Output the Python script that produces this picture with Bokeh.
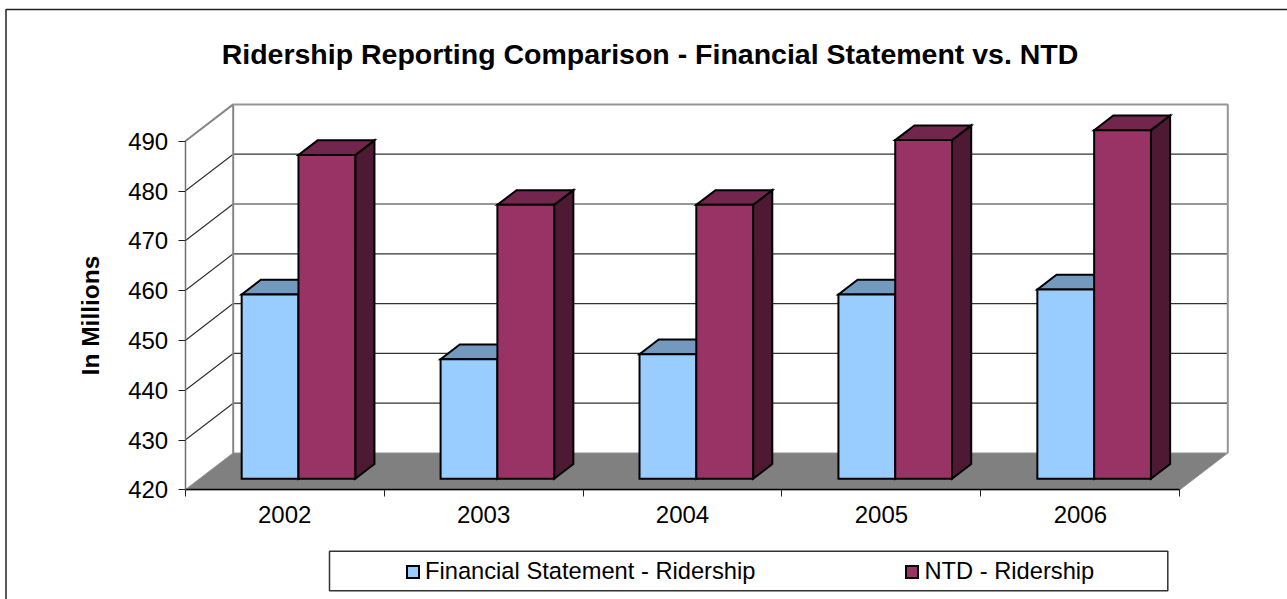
from bokeh.plotting import figure
from bokeh.models import LinearAxis, FixedTicker, Legend, LegendItem, BoxAnnotation, Label
from bokeh.embed import file_html
from bokeh.resources import INLINE

# ---- data ----
categories = ["2002", "2003", "2004", "2005", "2006"]
financial_statement = [457, 444, 445, 457, 458]
ntd = [485, 475, 475, 488, 490]
value_ticks = [420, 430, 440, 450, 460, 470, 480, 490]
series_names = ["Financial Statement - Ridership", "NTD - Ridership"]
chart_title = "Ridership Reporting Comparison - Financial Statement vs. NTD"
y_title = "In Millions"

# ---- page / projection geometry ----
W, H = 1287, 599
PX_LEFT, PX_CAT = 184.7, 198.92   # pixel of first category edge, pixels per category
PX_BASE, PX_VAL = 489.3, 4.98     # pixel of value 420, pixels per value unit
DEPTH_PX_X, DEPTH_PX_Y = 48.0, 36.8
BASE = value_ticks[0]
TOP = value_ticks[-1]
N = len(categories)
DX = DEPTH_PX_X / PX_CAT
DY = DEPTH_PX_Y / PX_VAL
BAR_W = 0.2855
GAP = (1 - 2 * BAR_W) / 2 - 0.003
D0, D1 = 0.3, 0.7


def dx(px):
    return (px - PX_LEFT) / PX_CAT


def dy(py):
    return BASE + (PX_BASE - py) / PX_VAL


FONT = "Liberation Sans"
p = figure(width=W, height=H, output_backend="svg", toolbar_location=None,
           x_range=(dx(0), dx(W)), y_range=(dy(H), dy(0)),
           x_axis_location=None, y_axis_location=None, min_border=0,
           outline_line_color=None, background_fill_color="white",
           border_fill_color="white")
p.grid.visible = False
p.styles = {"position": "absolute", "left": "0px", "top": "0px"}

# outer chart frame (only its top and left edges are inside the picture)
p.line([dx(5.5), dx(5.5), dx(W)], [dy(H), dy(9), dy(9)], line_color="#222222", line_width=1.5)

# floor
p.patch([0, N, N + DX, DX], [BASE, BASE, BASE + DY, BASE + DY],
        fill_color="#808080", line_color="#909090", line_width=1)

# gridlines: back wall and side wall
inner = value_ticks[1:-1]
p.multi_line([[0, DX, N + DX] for _ in inner],
             [[v, v + DY, v + DY] for v in inner],
             line_color="#333333", line_width=1.2)
# wall outline
p.line([0, DX, DX, DX], [TOP, TOP + DY, BASE + DY, TOP + DY], line_color="#868686", line_width=2)
p.line([DX, N + DX, N + DX], [TOP + DY, TOP + DY, BASE + DY], line_color="#969696", line_width=2)


def bar_parts(vals, offset):
    lefts = [i + GAP + offset + D0 * DX for i in range(N)]
    rights = [l + BAR_W for l in lefts]
    bots = [BASE + D0 * DY] * N
    tops = [v + D0 * DY for v in vals]
    w = (D1 - D0) * DX
    h = (D1 - D0) * DY
    top_x = [[l, r, r + w, l + w] for l, r in zip(lefts, rights)]
    top_y = [[t, t, t + h, t + h] for t in tops]
    side_x = [[r, r + w, r + w, r] for r in rights]
    side_y = [[b, b + h, t + h, t] for b, t in zip(bots, tops)]
    return lefts, rights, bots, tops, top_x, top_y, side_x, side_y


line_kw = dict(line_color="black", line_width=2, line_join="miter")


def draw(vals, offset, front, top, side):
    l, r, b, t, tx, ty, sx, sy = bar_parts(vals, offset)
    p.patches(sx, sy, fill_color=side, **line_kw)
    p.patches(tx, ty, fill_color=top, **line_kw)
    return p.quad(left=l, right=r, bottom=b, top=t, fill_color=front, **line_kw)


r_blue = draw(financial_statement, 0, "#99CCFF", "#7399BF", "#4D6680")
r_red = draw(ntd, BAR_W, "#993366", "#73264D", "#4D1933")

# axes
yaxis = LinearAxis(fixed_location=0, bounds=(BASE, TOP),
                   ticker=FixedTicker(ticks=value_ticks))
yaxis.axis_line_color = "#707070"
yaxis.axis_line_width = 1.5
yaxis.major_tick_line_color = "#222222"
yaxis.major_tick_line_width = 1
yaxis.major_tick_in = 0
yaxis.major_tick_out = 7
yaxis.minor_tick_line_color = None
yaxis.major_label_standoff = 10
yaxis.major_label_text_font = FONT
yaxis.major_label_text_font_size = "24px"
yaxis.major_label_text_color = "black"
p.add_layout(yaxis, "left")

cat_pos = [i + 0.5 for i in range(N)]
xaxis = LinearAxis(fixed_location=BASE, bounds=(0, N),
                   ticker=FixedTicker(ticks=cat_pos, minor_ticks=list(range(N + 1))),
                   major_label_overrides={c: t for c, t in zip(cat_pos, categories)})
xaxis.axis_line_color = "black"
xaxis.axis_line_width = 1.5
xaxis.major_tick_line_color = None
xaxis.major_tick_in = 0
xaxis.major_tick_out = 0
xaxis.minor_tick_line_color = "#222222"
xaxis.minor_tick_line_width = 1
xaxis.minor_tick_in = 0
xaxis.minor_tick_out = 7
xaxis.major_label_standoff = 9
xaxis.major_label_text_font = FONT
xaxis.major_label_text_font_size = "24px"
xaxis.major_label_text_color = "black"
p.add_layout(xaxis, "below")

# titles
p.add_layout(Label(x=dx(649.5), y=dy(53), text=chart_title, text_font=FONT,
                   text_font_style="bold", text_font_size="28.5px", text_color="black",
                   text_align="center", text_baseline="middle"))
p.add_layout(Label(x=dx(90), y=dy(315), text=y_title, angle=90, angle_units="deg",
                   text_font=FONT, text_font_style="bold", text_font_size="24.5px",
                   text_color="black", text_align="center", text_baseline="middle"))

# legend box and legend
p.add_layout(BoxAnnotation(left=dx(329), right=dx(1167.3), top=dy(550.7), bottom=dy(590.3),
                           fill_color="white", fill_alpha=1, line_color="#333333", line_alpha=1,
                           line_width=1.5, level="annotation"))
legend = Legend(items=[LegendItem(label=series_names[0], renderers=[r_blue]),
                       LegendItem(label=series_names[1], renderers=[r_red])],
                orientation="horizontal", location=(405, 599 - 585), margin=0, padding=0,
                spacing=149, glyph_width=15, glyph_height=15, label_standoff=5,
                label_text_font=FONT, label_text_font_size="23.7px", label_text_color="black",
                background_fill_alpha=0, border_line_color=None)
p.add_layout(legend)

open("out.html", "w").write(file_html(p, INLINE))
